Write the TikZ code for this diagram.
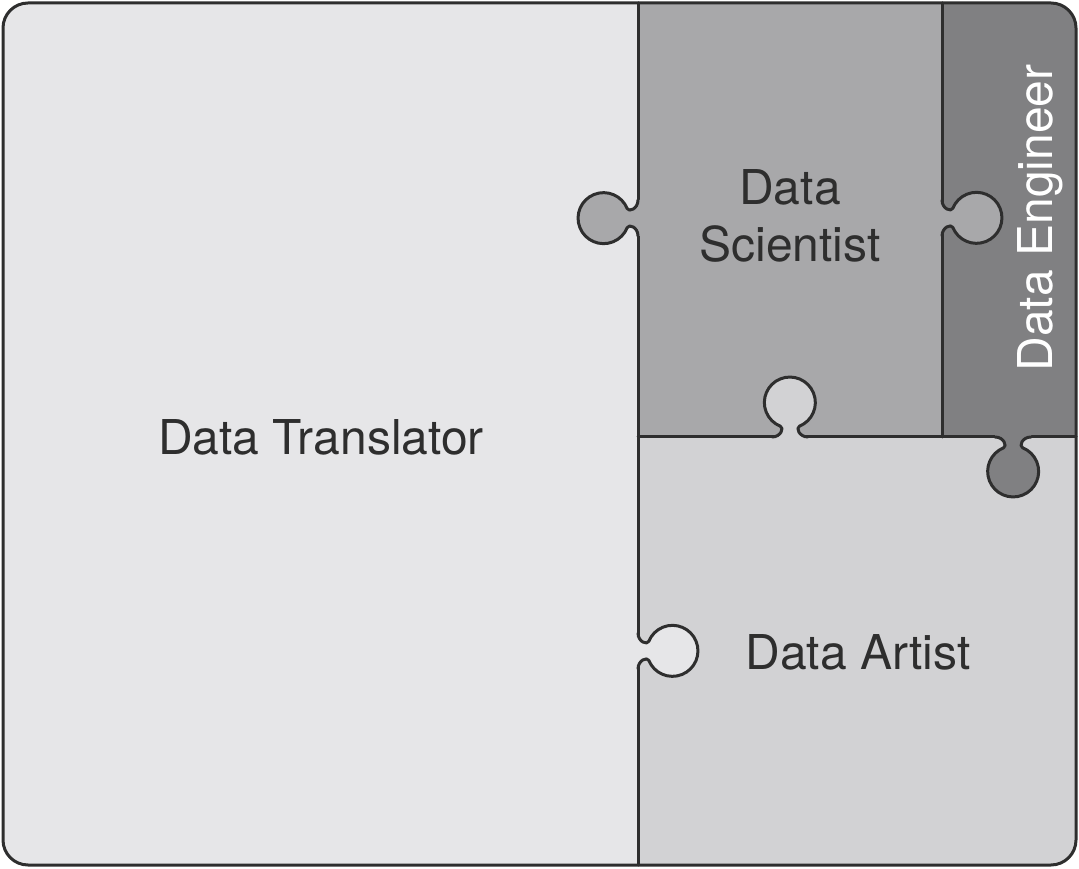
\documentclass[tikz,border=0pt]{standalone}
\usepackage{fontspec}
\setmainfont{TeX Gyre Heros}
\definecolor{translatorgray}{HTML}{E6E6E8}
\definecolor{scientistgray}{HTML}{A8A8AA}
\definecolor{engineergray}{HTML}{808082}
\definecolor{artistgray}{HTML}{D2D2D4}
\definecolor{linegray}{HTML}{2E2E2E}
\tikzset{
  edge/.style={draw=linegray,line width=3,line cap=round,line join=round},
  piecelabel/.style={inner sep=0pt,text=linegray,font=\fontsize{48}{57}\selectfont}
}
% knob on a divider: x, y, direction, fill colour
\newcommand{\puzzleknob}[4]{%
\begin{scope}[shift={(#1,#2)},rotate=#3]
\fill[#4] (-2.5,-18) -- (0,-18) .. controls (0,-9) and (9.3,-5.7) .. (10.8,-9.4)
  arc[start angle=202,end angle=518,radius=25.5]
  .. controls (9.3,5.7) and (0,9) .. (0,18) -- (-2.5,18) -- cycle;
\draw[edge] (0,-18) .. controls (0,-9) and (9.3,-5.7) .. (10.8,-9.4)
  arc[start angle=202,end angle=518,radius=25.5]
  .. controls (9.3,5.7) and (0,9) .. (0,18);
\end{scope}}
\begin{document}
\begin{tikzpicture}[x=1pt,y=1pt]
\useasboundingbox (0,0) rectangle (1079,868);
\fill[translatorgray,rounded corners=25] (3,3) rectangle (1076,865);
\begin{scope}
\clip[rounded corners=25] (3,3) rectangle (1076,865);
\fill[scientistgray] (638,431) rectangle (942,866);
\fill[engineergray] (942,431) rectangle (1077,866);
\fill[artistgray] (638,2) rectangle (1077,431);
\end{scope}
% dividers
\coordinate (top) at (638,865);
\coordinate (bottom) at (638,3);
\coordinate (mid) at (638,431);
\coordinate (right) at (1076,431);
\coordinate (split) at (942,431);
\coordinate (splittop) at (942,865);
\draw[edge] (top) -- (bottom);
\draw[edge] (mid) -- (right);
\draw[edge] (split) -- (splittop);
% knobs
\puzzleknob{638}{650}{180}{scientistgray}
\puzzleknob{790}{431}{90}{artistgray}
\puzzleknob{942}{650}{0}{scientistgray}
\puzzleknob{1013}{431}{-90}{engineergray}
\puzzleknob{638}{217}{0}{translatorgray}
\draw[edge,rounded corners=25] (3,3) rectangle (1076,865);
% labels
\node[piecelabel] (translator) at (321,431) {Data Translator};
\node[piecelabel,align=center] (scientist) at (790,652) {Data\\Scientist};
\node[piecelabel] (artist) at (858,216) {Data Artist};
\node[piecelabel,text=white,rotate=90] (engineer) at (1040,650) {Data Engineer};
\end{tikzpicture}
\end{document}
